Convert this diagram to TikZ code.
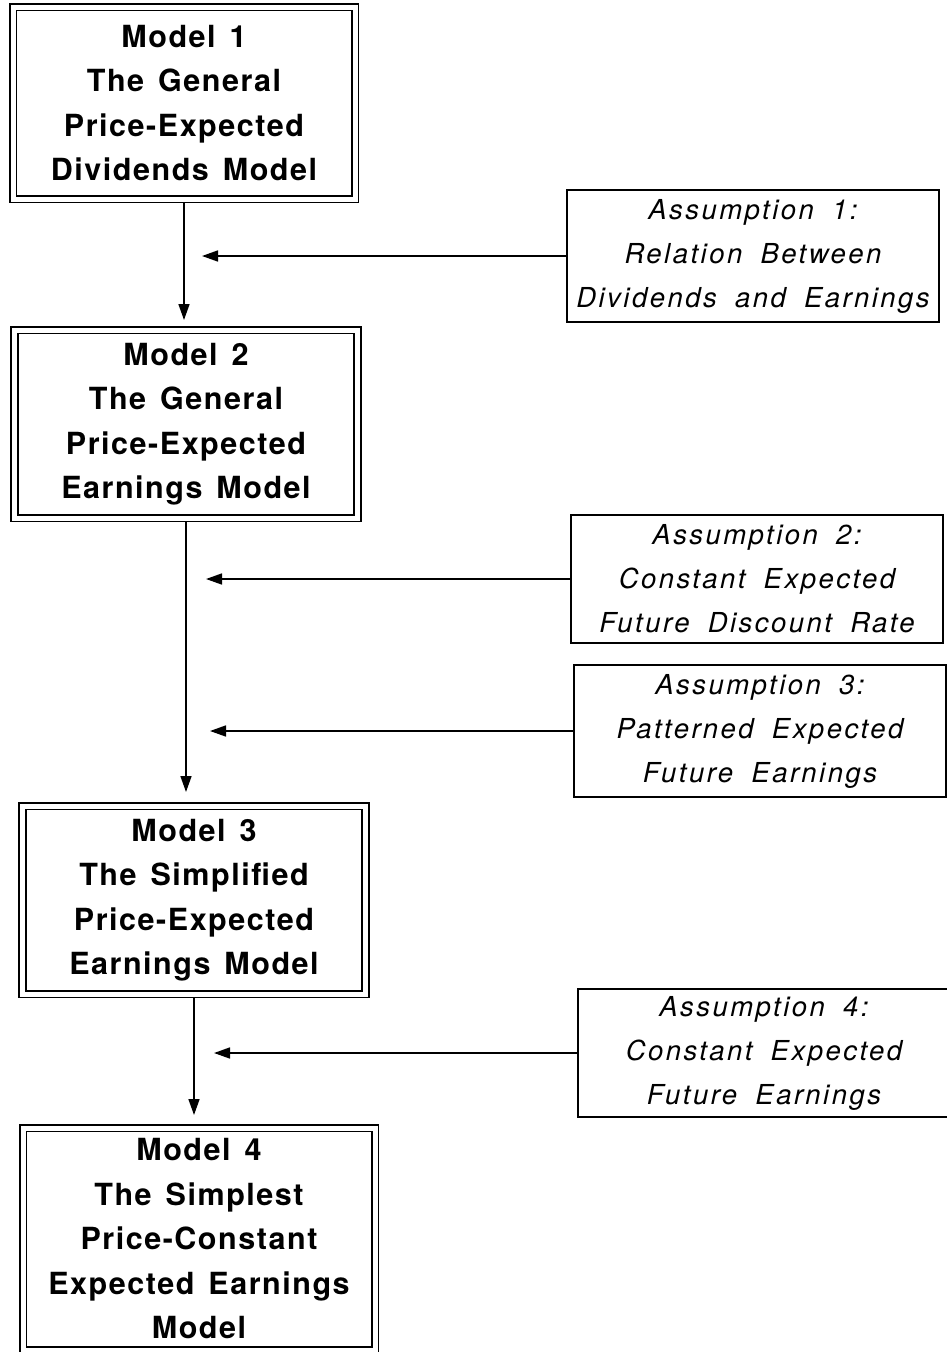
\documentclass[tikz,border=0pt]{standalone}
\usepackage{fontspec}
\setmainfont{TeX Gyre Heros}
\newfontfamily\modelfont[LetterSpace=5,WordSpace=1.4]{TeX Gyre Heros}
\newfontfamily\assfont[LetterSpace=9,WordSpace=1.8]{TeX Gyre Heros}
\usetikzlibrary{arrows.meta}
\begin{document}
\begin{tikzpicture}[x=1pt,y=-1pt,
  modelbox/.style={draw, double, double distance=5pt, line width=1.7pt,
    inner sep=0pt, outer sep=3.5pt, align=center,
    font=\modelfont\bfseries\fontsize{30.5}{44.5}\selectfont},
  assbox/.style={draw, line width=1.6pt, inner sep=0pt, align=center,
    font=\assfont\itshape\fontsize{27.5}{44}\selectfont},
  arr/.style={line width=1.6pt, -{Triangle[length=16pt,width=11pt]}}]
\useasboundingbox (0,0) rectangle (946,1352);

\node[modelbox, minimum width=342pt, minimum height=192pt] (M1) at (184,103)
  {Model 1\\The General\\Price-Expected\\Dividends Model};
\node[modelbox, minimum width=343pt, minimum height=188pt] (M2) at (186,424)
  {Model 2\\The General\\Price-Expected\\Earnings Model};
\node[modelbox, minimum width=343pt, minimum height=188pt] (M3) at (194,900)
  {Model 3\\The Simplified\\Price-Expected\\Earnings Model};
\node[modelbox, minimum width=352pt, minimum height=222pt] (M4) at (199,1239)
  {Model 4\\The Simplest\\Price-Constant\\Expected Earnings\\Model};

\node[assbox, minimum width=372pt, minimum height=132pt] (A1) at (753,256)
  {Assumption 1:\\Relation Between\\Dividends and Earnings};
\node[assbox, minimum width=372pt, minimum height=128pt] (A2) at (757,579)
  {Assumption 2:\\Constant Expected\\Future Discount Rate};
\node[assbox, minimum width=372pt, minimum height=132pt] (A3) at (760,731)
  {Assumption 3:\\Patterned Expected\\Future Earnings};
\node[assbox, minimum width=372pt, minimum height=128pt] (A4) at (764,1053)
  {Assumption 4:\\Constant Expected\\Future Earnings};

% vertical arrow ends
\coordinate (v1) at (0,320);
\coordinate (v2) at (0,792);
\coordinate (v3) at (0,1115);
\draw[arr] (M1.south) -- (M1.south |- v1);
\draw[arr] (M2.south) -- (M2.south |- v2);
\draw[arr] (M3.south) -- (M3.south |- v3);

% horizontal arrow tips
\coordinate (h1) at (202,0);
\coordinate (h2) at (206,0);
\coordinate (h3) at (210,0);
\coordinate (h4) at (214,0);
\draw[arr] (A1.west) -- (A1.west -| h1);
\draw[arr] (A2.west) -- (A2.west -| h2);
\draw[arr] (A3.west) -- (A3.west -| h3);
\draw[arr] (A4.west) -- (A4.west -| h4);
\end{tikzpicture}
\end{document}
